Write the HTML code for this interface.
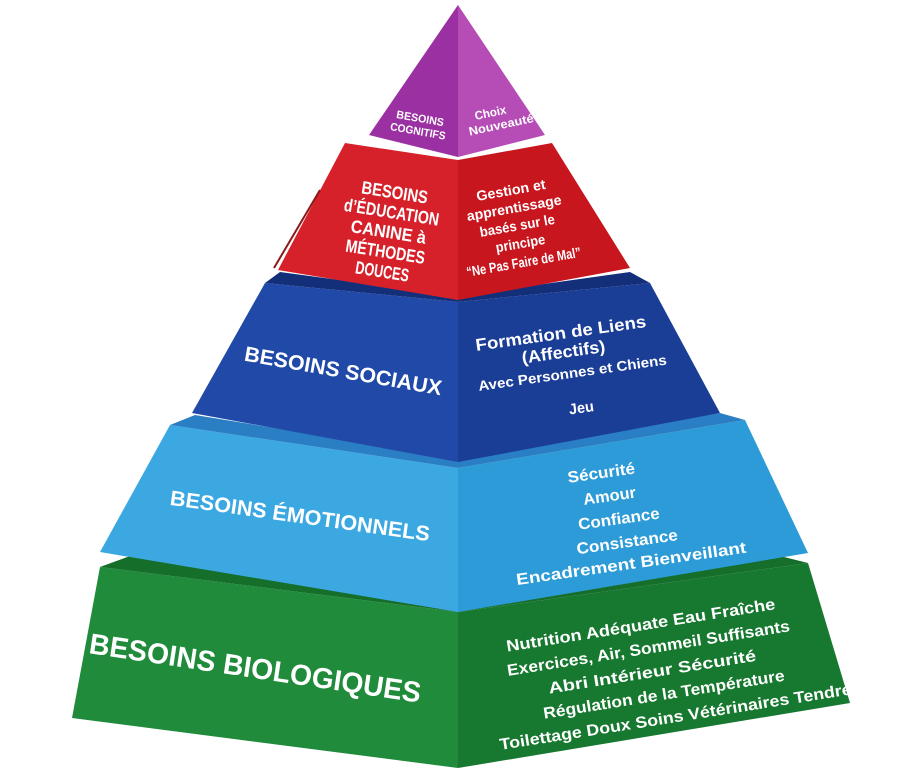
<!DOCTYPE html>
<html><head><meta charset="utf-8"><style>
html,body{margin:0;padding:0;background:#fff;width:900px;height:769px;overflow:hidden}
svg text{font-family:"Liberation Sans Narrow","Liberation Sans",sans-serif;font-weight:bold;fill:#fff;text-anchor:middle}
</style></head><body>
<svg width="900" height="769" viewBox="0 0 900 769" xmlns="http://www.w3.org/2000/svg">
<!-- green -->
<polygon points="100,567 458,612 458,768 72,718" fill="#1f8b3b"/>
<polygon points="458,612 808,563 850,703 458,768" fill="#17782f"/>
<polygon points="100,567 458,612 808,563 780,556 458,600 130,556" fill="#166e2b"/>
<!-- light blue -->
<polygon points="170,425 458,468 458,612 100,552" fill="#3ba8e2"/>
<polygon points="458,468 745,420 808,553 458,612" fill="#2c9bd7"/>
<polygon points="170,425 458,468 745,420 720,413 458,458 195,415" fill="#2a7fc4"/>
<!-- blue -->
<polygon points="265,283 458,302 458,462 192,413" fill="#2149a8"/>
<polygon points="458,302 650,283 720,413 458,462" fill="#1a3d95"/>
<polygon points="265,283 458,302 650,283 630,272 458,296 280,272" fill="#142f7a"/>
<!-- red -->
<polygon points="345,143 458,160 458,300 278,270" fill="#d6212b"/>
<polygon points="458,160 552,143 630,268 458,300" fill="#c8161e"/>
<line x1="274" y1="268" x2="320" y2="190" stroke="#8a1a1a" stroke-width="2"/>
<!-- purple -->
<polygon points="458,5 458,157 369,135" fill="#9a30a2"/>
<polygon points="458,5 545,135 458,157" fill="#b64db6"/>
<!-- purple texts -->
<g transform="rotate(10 419 125)">
<text x="419" y="122" style="font-size:11px" textLength="48" lengthAdjust="spacingAndGlyphs">BESOINS</text>
<text x="419" y="135" style="font-size:11px" textLength="56" lengthAdjust="spacingAndGlyphs">COGNITIFS</text></g>
<g transform="rotate(-12 495 120)">
<text x="492" y="116" style="font-size:12px" textLength="32" lengthAdjust="spacingAndGlyphs">Choix</text>
<text x="500" y="130" style="font-size:12px" textLength="66" lengthAdjust="spacingAndGlyphs">Nouveauté</text></g>
<!-- red texts -->
<g transform="rotate(9 388 235)">
<text x="388" y="198" style="font-size:18px" textLength="67" lengthAdjust="spacingAndGlyphs">BESOINS</text>
<text x="388" y="218" style="font-size:18px" textLength="96" lengthAdjust="spacingAndGlyphs">d’ÉDUCATION</text>
<text x="388" y="238" style="font-size:18px" textLength="76" lengthAdjust="spacingAndGlyphs">CANINE à</text>
<text x="388" y="258" style="font-size:18px" textLength="80" lengthAdjust="spacingAndGlyphs">MÉTHODES</text>
<text x="388" y="278" style="font-size:18px" textLength="54" lengthAdjust="spacingAndGlyphs">DOUCES</text></g>
<g transform="rotate(-10 520 230)">
<text x="518" y="194" style="font-size:14px" textLength="70" lengthAdjust="spacingAndGlyphs">Gestion et</text>
<text x="518" y="212" style="font-size:14px" textLength="96" lengthAdjust="spacingAndGlyphs">apprentissage</text>
<text x="518" y="230" style="font-size:14px" textLength="76" lengthAdjust="spacingAndGlyphs">basés sur le</text>
<text x="518" y="248" style="font-size:14px" textLength="50" lengthAdjust="spacingAndGlyphs">principe</text>
<text x="518" y="267" style="font-size:14px" textLength="116" lengthAdjust="spacingAndGlyphs">“Ne Pas Faire de Mal”</text></g>
<!-- blue texts -->
<text x="343" y="378" transform="rotate(10 343 372)" style="font-size:21px" textLength="200" lengthAdjust="spacingAndGlyphs">BESOINS SOCIAUX</text>
<g transform="rotate(-8 570 370)">
<text x="566" y="338" style="font-size:17px" textLength="172" lengthAdjust="spacingAndGlyphs">Formation de Liens</text>
<text x="566" y="357" style="font-size:17px" textLength="84" lengthAdjust="spacingAndGlyphs">(Affectifs)</text>
<text x="572" y="378" style="font-size:14px" textLength="190" lengthAdjust="spacingAndGlyphs">Avec Personnes et Chiens</text>
<text x="576" y="414" style="font-size:15px" textLength="25" lengthAdjust="spacingAndGlyphs">Jeu</text></g>
<!-- light blue texts -->
<text x="300" y="523" transform="rotate(8 300 516)" style="font-size:21px" textLength="262" lengthAdjust="spacingAndGlyphs">BESOINS ÉMOTIONNELS</text>
<g transform="rotate(-8 620 520)">
<text x="608" y="476" style="font-size:16px" textLength="68" lengthAdjust="spacingAndGlyphs">Sécurité</text>
<text x="613" y="500" style="font-size:16px" textLength="53" lengthAdjust="spacingAndGlyphs">Amour</text>
<text x="619" y="524" style="font-size:16px" textLength="82" lengthAdjust="spacingAndGlyphs">Confiance</text>
<text x="624" y="548" style="font-size:16px" textLength="102" lengthAdjust="spacingAndGlyphs">Consistance</text>
<text x="625" y="570" style="font-size:16px" textLength="232" lengthAdjust="spacingAndGlyphs">Encadrement Bienveillant</text></g>
<!-- green texts -->
<text x="255" y="678" transform="rotate(8.5 255 670)" style="font-size:29px" textLength="335" lengthAdjust="spacingAndGlyphs">BESOINS BIOLOGIQUES</text>
<g transform="rotate(-9 660 670)">
<text x="648" y="628" style="font-size:16px" textLength="272" lengthAdjust="spacingAndGlyphs">Nutrition Adéquate    Eau Fraîche</text>
<text x="652" y="652" style="font-size:16px" textLength="286" lengthAdjust="spacingAndGlyphs">Exercices, Air, Sommeil Suffisants</text>
<text x="652" y="676" style="font-size:16px" textLength="210" lengthAdjust="spacingAndGlyphs">Abri Intérieur    Sécurité</text>
<text x="660" y="700" style="font-size:16px" textLength="244" lengthAdjust="spacingAndGlyphs">Régulation de la Température</text>
<text x="668" y="724" style="font-size:16px" textLength="356" lengthAdjust="spacingAndGlyphs">Toilettage Doux    Soins Vétérinaires Tendre</text></g>
</svg>
</body></html>
